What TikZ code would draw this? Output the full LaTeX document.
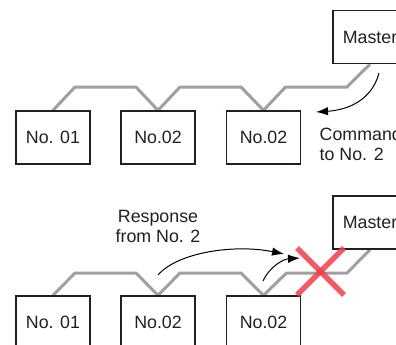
\documentclass[tikz,border=0pt]{standalone}
\usepackage{fontspec}
\setmainfont{Liberation Sans}
\usetikzlibrary{arrows.meta,backgrounds}
\definecolor{busc}{RGB}{160,160,160}
\definecolor{xred}{RGB}{236,64,76}
\definecolor{inkc}{RGB}{35,31,32}
\begin{document}
\begin{tikzpicture}[x=1pt,y=-1pt,
  box/.style={draw=inkc, line width=1.3pt, minimum width=74pt, minimum height=53pt,
    inner sep=0pt, fill=white, text=inkc, font=\fontsize{17.8}{20.5}\selectfont},
  bus/.style={draw=busc, line width=3pt, line join=miter},
  arr/.style={draw=black, line width=1pt, -{Latex[length=12pt,width=8.5pt]}},
  lbl/.style={font=\fontsize{17.8}{20.5}\selectfont, inner sep=0pt, text=inkc},
  xline/.style={draw=xred, line width=5.5pt, draw opacity=0.85}]
\useasboundingbox (0,0) rectangle (396,345);
\clip (0,0) rectangle (396,345);

% ---------- top: command ----------
\node[box] (m1) at (370,37) {Master};
\node[box] (t1) at (53,137.5) {No. 01};
\node[box] (t2) at (158,137.5) {No.02};
\node[box] (t3) at (263.5,137.5) {No.02};
\begin{scope}[on background layer]
\draw[bus] (t1.north) -- (75,87) -- (136,87) -- (t2.north) -- (180,87) -- (241,87)
  -- (t3.north) -- (285.5,87) -- (347,87) -- (m1.south);
\end{scope}
\coordinate (c1a) at (379,73);
\coordinate (c1b) at (316,112);
\draw[arr] (c1a) .. controls (372,100) and (348,110) .. (c1b);
\node[lbl, anchor=north west, align=left] (cmd) at (319.5,127) {Command\\to No. 2};

% ---------- bottom: response ----------
\node[box] (m2) at (370,222.5) {Master};
\node[box] (b1) at (53,322.5) {No. 01};
\node[box] (b2) at (158,322.5) {No.02};
\node[box] (b3) at (263.5,322.5) {No.02};
\begin{scope}[on background layer]
\draw[bus] (b1.north) -- (75,273) -- (136,273) -- (b2.north) -- (180,273) -- (241,273)
  -- (b3.north) -- (286.5,273) -- (347,273) -- (m2.south);
\end{scope}
\node[lbl, anchor=north, align=center] (resp) at (158,210) {Response\\from No. 2};
\coordinate (r1s) at (158,275);
\coordinate (r1e) at (284,254);
\draw[arr] (r1s) .. controls (178,252) and (235,244) .. (r1e);
\coordinate (r2s) at (263,281);
\coordinate (r2e) at (300,258);
\draw[arr] (r2s) .. controls (270,266) and (284,259) .. (r2e);
\coordinate (xa) at (297,248);
\coordinate (xb) at (344,295);
\coordinate (xc) at (344,248);
\coordinate (xd) at (297,295);
\draw[xline] (xa) -- (xb);
\draw[xline] (xc) -- (xd);
\end{tikzpicture}
\end{document}
